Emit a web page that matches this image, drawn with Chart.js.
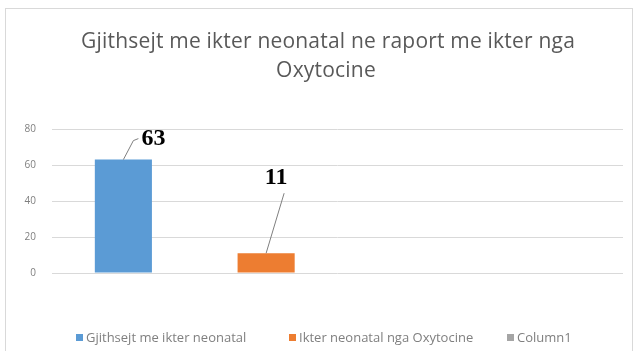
<!DOCTYPE html>
<html>
<head>
<meta charset="utf-8">
<script src="https://cdn.jsdelivr.net/npm/chart.js@4.4.1/dist/chart.umd.min.js"></script>
<style>
  html, body { margin: 0; padding: 0; background: #fff; }
  #wrap { position: relative; width: 639px; height: 351px; overflow: hidden; }
  #frame {
    position: absolute; left: 5px; top: 8px; width: 628px; height: 360px;
    border: 1px solid #d9d9d9; box-sizing: border-box;
  }
  #chart { position: absolute; left: 0; top: 0; }
</style>
</head>
<body>
<div id="wrap">
  <div id="frame"></div>
  <canvas id="chart" width="639" height="351"></canvas>
</div>
<script>
// slots along the x axis; each series sits in its own slot
const categories = ["", "", "", ""];
const seriesNames = ["Gjithsejt me ikter neonatal", "Ikter neonatal nga Oxytocine", "Column1"];
const totalIkter = [63, null, null, null];
const oxytocineIkter = [null, 11, null, null];
const column1 = [null, null, null, null];
const yTicks = [0, 20, 40, 60, 80];
const titleLines = ["Gjithsejt me ikter neonatal ne raport me ikter nga", "Oxytocine"];

const colors = ["#5b9bd5", "#ed7d31", "#a5a5a5"];

// where each value label sits relative to the top of its bar
const labelOffsets = [
  { dx: 30, dy: -21, elbow: [{ dx: 10, dy: -19 }, { dx: 15, dy: -21 }] },
  { dx: 10, dy: -75, elbow: [{ dx: 18, dy: -60 }] },
];

const titlePlugin = {
  id: "titleText",
  afterDraw(chart) {
    const { ctx } = chart;
    ctx.save();
    ctx.fillStyle = "#595959";
    ctx.font = "21px 'Open Sans'";
    ctx.letterSpacing = "0.2px";
    ctx.textAlign = "center";
    ctx.textBaseline = "middle";
    ctx.fillText(titleLines[0], 328, 42);
    ctx.fillText(titleLines[1], 326, 71);
    ctx.restore();
  },
};

const valueLabels = {
  id: "valueLabels",
  afterDatasetsDraw(chart) {
    const { ctx } = chart;
    ctx.save();
    chart.data.datasets.forEach((ds, di) => {
      const meta = chart.getDatasetMeta(di);
      const off = labelOffsets[di];
      if (!off) return;
      ds.data.forEach((v, i) => {
        if (v == null) return;
        const bar = meta.data[i];
        // leader line from bar top toward the label
        ctx.strokeStyle = "#7f7f7f";
        ctx.lineWidth = 1;
        ctx.beginPath();
        ctx.moveTo(bar.x, bar.y);
        off.elbow.forEach((p) => ctx.lineTo(bar.x + p.dx, bar.y + p.dy));
        ctx.stroke();

        ctx.fillStyle = "#000";
        ctx.font = "bold 24px 'Liberation Serif'";
        ctx.textAlign = "center";
        ctx.textBaseline = "middle";
        ctx.fillText(String(v), bar.x + off.dx, bar.y + off.dy);
      });
    });
    ctx.restore();
  },
};

const legendX = [76, 289, 507];
const bottomLegend = {
  id: "bottomLegend",
  afterDraw(chart) {
    const { ctx } = chart;
    ctx.save();
    ctx.font = "13px 'Open Sans'";
    ctx.textBaseline = "middle";
    chart.data.datasets.forEach((ds, i) => {
      const x = legendX[i];
      ctx.fillStyle = ds.backgroundColor;
      ctx.fillRect(x, 334, 7, 7);
      ctx.fillStyle = "#7f7f7f";
      ctx.fillText(ds.label, x + 10, 338);
    });
    ctx.restore();
  },
};

new Chart(document.getElementById("chart"), {
  type: "bar",
  data: {
    labels: categories,
    datasets: [
      { label: seriesNames[0], data: totalIkter, backgroundColor: colors[0] },
      { label: seriesNames[1], data: oxytocineIkter, backgroundColor: colors[1] },
      { label: seriesNames[2], data: column1, backgroundColor: colors[2] },
    ],
  },
  options: {
    responsive: false,
    animation: false,
    layout: { padding: { left: 0, right: 16, top: 129, bottom: 78 } },
    plugins: {
      legend: { display: false },
      title: { display: false },
      tooltip: { enabled: false },
    },
    datasets: { bar: { barPercentage: 0.4, categoryPercentage: 1 } },
    scales: {
      x: {
        stacked: true,
        display: false,
      },
      y: {
        stacked: true,
        min: 0,
        max: 80,
        afterFit(scale) { scale.width = 52; },
        afterBuildTicks(scale) { scale.ticks = yTicks.map((v) => ({ value: v })); },
        ticks: {
          color: "#7f7f7f",
          font: { family: "'Open Sans'", size: 10 },
          padding: 16,
        },
        grid: { color: "#d9d9d9", drawTicks: false },
        border: { display: false },
      },
    },
  },
  plugins: [titlePlugin, valueLabels, bottomLegend],
});
</script>
</body>
</html>
